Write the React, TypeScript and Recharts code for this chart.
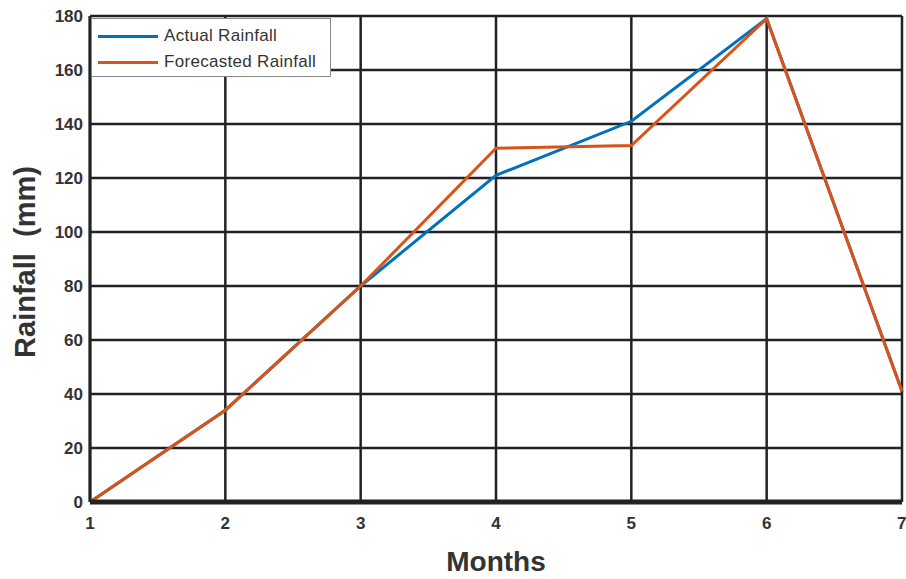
import React from 'react';
import { LineChart, Line, XAxis, YAxis, CartesianGrid, Legend } from 'recharts';

// Monthly rainfall (mm): measured vs. model forecast
const months = [1, 2, 3, 4, 5, 6, 7];
const actualRainfall = [0, 34, 80, 121, 141, 179, 41];
const forecastedRainfall = [0, 34, 80, 131, 132, 179, 41];
const yTicks = [0, 20, 40, 60, 80, 100, 120, 140, 160, 180];

const data = months.map((m, i) => ({
  month: m,
  actual: actualRainfall[i],
  forecast: forecastedRainfall[i],
}));

const FONT = '"Liberation Sans", Arial, sans-serif';
const tickStyle = { fontFamily: FONT, fontSize: 17, fontWeight: 700, fill: '#333' };

const LegendBox = (props: any) => {
  const items = props.payload || [];
  return (
    <div
      style={{
        width: 240,
        height: 59,
        border: '1.5px solid #8a8a8a',
        background: '#fff',
        boxSizing: 'border-box',
        paddingTop: 4,
      }}
    >
      {items.map((it: any) => (
        <div key={it.value} style={{ display: 'flex', alignItems: 'center', height: 26 }}>
          <div style={{ width: 60, height: 3, background: it.color, marginLeft: 6, marginRight: 6 }} />
          <span style={{ fontFamily: FONT, fontSize: 17, color: '#333', letterSpacing: 0.3 }}>{it.value}</span>
        </div>
      ))}
    </div>
  );
};

const YTitle = (props: any) => {
  const vb = props.viewBox || { x: 0, y: 16, width: 90, height: 486 };
  const cx = vb.x + 25;
  const cy = vb.y + vb.height / 2 + 3;
  return (
    <text
      x={cx}
      y={cy}
      transform={`rotate(-90 ${cx} ${cy})`}
      textAnchor="middle"
      dominantBaseline="central"
      style={{ whiteSpace: 'pre', fontFamily: FONT, fontSize: 29, fontWeight: 700, fill: '#333' }}
    >
      {'Rainfall  (mm)'}
    </text>
  );
};

export default function App() {
  return (
    <div style={{ position: 'absolute', left: 0, top: 0, width: 906, height: 579, background: '#fff' }}>
      <LineChart width={906} height={579} data={data} margin={{ top: 16, right: 4, bottom: 0, left: 0 }}>
        <CartesianGrid stroke="#222" strokeWidth={2.5} />
        <XAxis
          dataKey="month"
          type="number"
          domain={[1, 7]}
          ticks={months}
          height={77}
          tickLine={false}
          tickSize={0}
          tickMargin={15}
          axisLine={{ stroke: '#222', strokeWidth: 5 }}
          tick={tickStyle}
          label={{
            value: 'Months',
            position: 'insideBottom',
            offset: 8,
            style: { fontFamily: FONT, fontSize: 28, fontWeight: 700, fill: '#333' },
          }}
        />
        <YAxis
          type="number"
          domain={[0, 180]}
          ticks={yTicks}
          width={90}
          tickLine={false}
          tickSize={0}
          tickMargin={7}
          axisLine={{ stroke: '#222', strokeWidth: 3 }}
          tick={tickStyle}
          label={{ content: YTitle }}
        />
        <Legend
          layout="horizontal"
          verticalAlign="middle"
          align="center"
          wrapperStyle={{ position: 'absolute', top: 18, left: 91, width: 240, height: 59 }}
          content={LegendBox}
        />
        <Line
          type="linear"
          dataKey="actual"
          name="Actual Rainfall"
          stroke="#0072BD"
          strokeWidth={3}
          dot={false}
          isAnimationActive={false}
        />
        <Line
          type="linear"
          dataKey="forecast"
          name="Forecasted Rainfall"
          stroke="#D95319"
          strokeWidth={3}
          dot={false}
          isAnimationActive={false}
        />
      </LineChart>
    </div>
  );
}
